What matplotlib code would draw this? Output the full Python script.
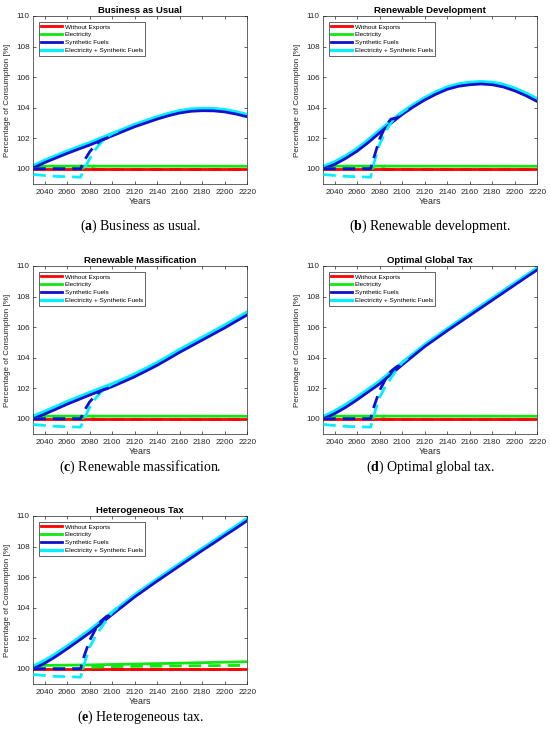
import matplotlib
matplotlib.use("Agg")
import matplotlib.pyplot as plt

plt.rcParams['font.family'] = ['Liberation Sans', 'DejaVu Sans']
plt.rcParams['mathtext.fontset'] = 'custom'
plt.rcParams['mathtext.rm'] = 'Liberation Serif'
plt.rcParams['mathtext.bf'] = 'Liberation Serif:bold'

# ---------------- data ----------------
series_names = ["Without Exports", "Electricity", "Synthetic Fuels",
                "Electricity + Synthetic Fuels"]
titles = ["Business as Usual", "Renewable Development", "Renewable Massification",
          "Optimal Global Tax", "Heterogeneous Tax"]
caption_letters = ["a", "b", "c", "d", "e"]
caption_texts = ["Business as usual.", "Renewable development.",
                 "Renewable massification.", "Optimal global tax.",
                 "Heterogeneous tax."]

years = [2030, 2040, 2050, 2060, 2070, 2080, 2090, 2100, 2110, 2120,
         2130, 2140, 2150, 2160, 2170, 2180, 2190, 2200, 2210, 2220]
x_ticks = [2040, 2060, 2080, 2100, 2120, 2140, 2160, 2180, 2200, 2220]
y_ticks = [100, 102, 104, 106, 108, 110]

# without exports (all scenarios)
noexp_years = [2030, 2220]
noexp_vals = [100.0, 100.0]

# electricity (solid)
elec_years = [2030, 2080, 2150, 2220]
elec_flat = [100.17, 100.17, 100.17, 100.16]
elec_ht = [100.21, 100.25, 100.35, 100.46]

# electricity (dashed)
elec_d_years = [2030, 2072, 2078, 2085]
elec_d_flat = [100.0, 100.0, 100.12, 100.17]
elec_d_ht_years = [2030, 2072, 2078, 2100, 2150, 2220]
elec_d_ht = [100.0, 100.0, 100.08, 100.14, 100.18, 100.22]

# synthetic fuels (solid)
bau_sf = [100.05, 100.4, 100.7, 101.0, 101.28, 101.55, 101.85, 102.15, 102.45, 102.75,
          103.0, 103.25, 103.47, 103.65, 103.76, 103.8, 103.79, 103.72, 103.58, 103.4]
rd_sf = [100.0, 100.28, 100.68, 101.15, 101.72, 102.35, 102.97, 103.55, 104.05, 104.5,
         104.88, 105.2, 105.4, 105.5, 105.55, 105.5, 105.35, 105.1, 104.78, 104.4]
rm_sf = [100.0, 100.3, 100.62, 100.95, 101.25, 101.55, 101.83, 102.1, 102.42, 102.75,
         103.12, 103.5, 103.92, 104.35, 104.75, 105.15, 105.55, 105.95, 106.38, 106.8]
ogt_sf = [100.0, 100.33, 100.75, 101.24, 101.76, 102.28, 102.9, 103.52, 104.12, 104.72,
          105.24, 105.76, 106.26, 106.76, 107.26, 107.76, 108.26, 108.76, 109.26, 109.75]
ht_sf = [100.0, 100.35, 100.8, 101.3, 101.82, 102.35, 102.95, 103.55, 104.12, 104.7,
         105.22, 105.74, 106.24, 106.74, 107.24, 107.74, 108.22, 108.72, 109.2, 109.7]

# electricity + synthetic fuels (solid)
bau_esf = [100.2, 100.55, 100.85, 101.15, 101.43, 101.7, 102.0, 102.3, 102.6, 102.9,
           103.15, 103.4, 103.62, 103.8, 103.91, 103.95, 103.94, 103.87, 103.73, 103.55]
rd_esf = [100.15, 100.45, 100.85, 101.32, 101.9, 102.52, 103.13, 103.7, 104.2, 104.65,
          105.03, 105.35, 105.55, 105.66, 105.7, 105.66, 105.52, 105.27, 104.95, 104.58]
rm_esf = [100.18, 100.48, 100.8, 101.12, 101.42, 101.72, 102.0, 102.28, 102.6, 102.93,
          103.3, 103.68, 104.1, 104.53, 104.93, 105.33, 105.73, 106.13, 106.56, 107.0]
ogt_esf = [100.15, 100.5, 100.93, 101.42, 101.94, 102.46, 103.07, 103.67, 104.26, 104.85,
           105.37, 105.89, 106.39, 106.89, 107.39, 107.89, 108.39, 108.89, 109.38, 109.88]
ht_esf = [100.17, 100.53, 100.98, 101.48, 102.0, 102.53, 103.12, 103.7, 104.27, 104.84,
          105.36, 105.88, 106.38, 106.88, 107.38, 107.88, 108.36, 108.86, 109.34, 109.85]

# synthetic fuels (dashed)
sf_d_years = [2030, 2072, 2075, 2080, 2085, 2090, 2095, 2100]
bau_sf_d = [100.0, 100.0, 100.5, 101.1, 101.55, 101.85, 102.0, 102.15]
rd_sf_d = [100.0, 100.0, 100.75, 101.95, 102.75, 103.25, 103.32, 103.55]
rm_sf_d = [100.0, 100.0, 100.5, 101.1, 101.5, 101.83, 101.97, 102.1]
ogt_sf_d = [100.0, 100.0, 100.8, 101.85, 102.55, 103.1, 103.4, 103.52]
ht_sf_d = [100.0, 100.0, 100.8, 101.85, 102.55, 103.1, 103.42, 103.55]

# electricity + synthetic fuels (dashed)
esf_d_years = [2030, 2050, 2072, 2075, 2080, 2085, 2090, 2095, 2100, 2105]
bau_esf_d = [99.62, 99.5, 99.45, 99.95, 100.65, 101.25, 101.7, 102.05, 102.3, 102.45]
rd_esf_d = [99.62, 99.5, 99.45, 100.4, 101.6, 102.4, 103.0, 103.45, 103.7, 103.95]
rm_esf_d = [99.62, 99.5, 99.45, 99.95, 100.75, 101.3, 101.75, 102.05, 102.28, 102.44]
ogt_esf_d = [99.62, 99.5, 99.45, 100.25, 101.4, 102.1, 102.65, 103.2, 103.67, 103.97]
ht_esf_d = [99.62, 99.5, 99.45, 100.25, 101.4, 102.1, 102.65, 103.2, 103.7, 104.0]

sf_all = [bau_sf, rd_sf, rm_sf, ogt_sf, ht_sf]
esf_all = [bau_esf, rd_esf, rm_esf, ogt_esf, ht_esf]
sf_d_all = [bau_sf_d, rd_sf_d, rm_sf_d, ogt_sf_d, ht_sf_d]
esf_d_all = [bau_esf_d, rd_esf_d, rm_esf_d, ogt_esf_d, ht_esf_d]

# ---------------- style ----------------
RED = '#ff0000'
GREEN = '#10e610'
BLUE = '#1010d0'
CYAN = '#00f0ff'
AXC = '#262626'

fig = plt.figure(figsize=(5.5, 7.37), dpi=100)
W, H = 550.0, 737.0

# axes pixel boxes: left, top, right, bottom
boxes = [(33.3, 16, 247.3, 184), (323.3, 16, 537.3, 184),
         (33.3, 266, 247.3, 434), (323.3, 266, 537.3, 434),
         (33.3, 516, 247.3, 684)]
cap_y = [226, 226, 467, 467, 717]

for i in range(5):
    l, t, r, b = boxes[i]
    ax = fig.add_axes([l / W, 1 - b / H, (r - l) / W, (b - t) / H])
    lw = 2.0
    dash = (0, (4.5, 2.5))
    # solid lines
    ax.plot(noexp_years, noexp_vals, color=RED, lw=lw, label=series_names[0], zorder=2)
    if i == 4:
        ax.plot(elec_years, elec_ht, color=GREEN, lw=lw, label=series_names[1], zorder=2)
    else:
        ax.plot(elec_years, elec_flat, color=GREEN, lw=lw, label=series_names[1], zorder=2)
    ax.plot(years, sf_all[i], color=BLUE, lw=lw, label=series_names[2], zorder=3)
    ax.plot(years, esf_all[i], color=CYAN, lw=lw + 0.3, label=series_names[3], zorder=2.5)
    # dashed lines
    ax.plot(noexp_years, noexp_vals, color=RED, lw=lw, ls=dash, zorder=4)
    if i == 4:
        ax.plot(elec_d_ht_years, elec_d_ht, color=GREEN, lw=lw, ls=dash, zorder=4)
    else:
        ax.plot(elec_d_years, elec_d_flat, color=GREEN, lw=lw, ls=dash, zorder=4)
    ax.plot(sf_d_years, sf_d_all[i], color=BLUE, lw=lw, ls=dash, zorder=4.2)
    ax.plot(esf_d_years, esf_d_all[i], color=CYAN, lw=lw, ls=dash, zorder=4.1)

    ax.set_xlim(2030, 2220)
    ax.set_ylim(99, 110)
    ax.set_xticks(x_ticks)
    ax.set_yticks(y_ticks)
    ax.tick_params(direction='in', length=2.5, width=0.5, labelsize=5.9,
                   colors=AXC, top=True, right=True)
    ax.tick_params(axis='x', pad=3.5)
    ax.tick_params(axis='y', pad=2.5)
    for sp in ax.spines.values():
        sp.set_color(AXC)
        sp.set_linewidth(0.5)
    ax.set_title(titles[i], fontsize=6.8, fontweight='bold', pad=2.5, color='black')
    ax.set_xlabel("Years", fontsize=6.4, color=AXC, labelpad=0.5)
    ax.set_ylabel("Percentage of Consumption [%]", fontsize=5.8, color=AXC, labelpad=3.5)

    leg = ax.legend(loc='upper left', bbox_to_anchor=(0.025, 0.965), fontsize=4.6,
                    handlelength=3.3, handletextpad=0.4, labelspacing=0.38,
                    borderpad=0.35, borderaxespad=0.0, fancybox=False, framealpha=1)
    leg.get_frame().set_edgecolor(AXC)
    leg.get_frame().set_linewidth(0.5)

    cx = (l + r) / 2 / W
    fig.text(cx, 1 - cap_y[i] / H,
             r"($\mathbf{" + caption_letters[i] + r"}$) " + caption_texts[i],
             ha='center', va='center', fontsize=10, family='Liberation Serif')

fig.savefig("out.png", dpi=100)
